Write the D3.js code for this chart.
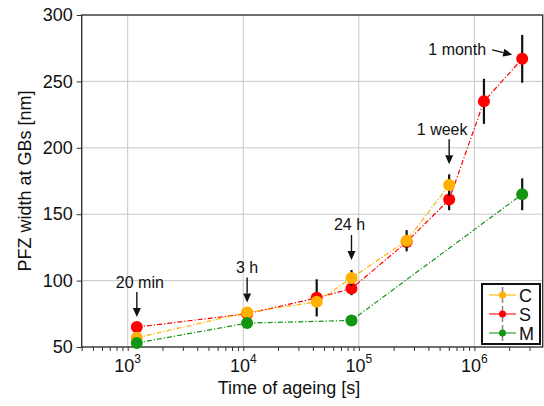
<!DOCTYPE html>
<html>
<head>
<meta charset="utf-8">
<script src="https://cdn.jsdelivr.net/npm/d3@7"></script>
<style>
  body { margin: 0; background: #fff; }
  svg { font-family: "Liberation Sans", Arial, sans-serif; }
</style>
</head>
<body>
<div id="chart"></div>
<script>
// Ageing times [s]: 20 min, 3 h, 12 h, 24 h, 3 d, 1 week, 2 weeks, 1 month
const timesC = [1200, 10800, 43200, 86400, 259200, 604800];
const valuesC = [57, 76, 84, 102, 130, 172];
const errorsC = [0, 0, 0, 6, 8, 8];

const timesS = [1200, 10800, 43200, 86400, 259200, 604800, 1209600, 2592000];
const valuesS = [65, 75, 87, 94, 129, 161, 235, 267];
const errorsS = [0, 0, 14, 5, 0, 8, 17, 18];

const timesM = [1200, 10800, 86400, 2592000];
const valuesM = [53, 68, 70, 165];
const errorsM = [0, 0, 3, 12];

const yTicks = [50, 100, 150, 200, 250, 300];
const xTicks = [1e3, 1e4, 1e5, 1e6];

const annLabels = ["20 min", "3 h", "24 h", "1 week", "1 month"];
const annTimes = [1200, 10800, 86400, 604800, 2592000];
const annDx = [3, 0, -2, -7, -65];

const series = [
  { name: "S", color: "#ff0000", times: timesS, values: valuesS, errors: errorsS },
  { name: "C", color: "#ffb000", times: timesC, values: valuesC, errors: errorsC },
  { name: "M", color: "#129612", times: timesM, values: valuesM, errors: errorsM }
];
const legendOrder = ["C", "S", "M"];

const width = 544, height = 406;
const margin = { top: 15, right: 1.3, bottom: 59, left: 81.7 };

const svg = d3.select("#chart").append("svg")
  .attr("width", width)
  .attr("height", height);

const x = d3.scaleLog()
  .domain([400, 3.9e6])
  .range([margin.left, width - margin.right]);

const y = d3.scaleLinear()
  .domain([50, 300])
  .range([height - margin.bottom, margin.top]);

// Grid
svg.append("g")
  .selectAll("line.gx")
  .data(xTicks)
  .join("line")
  .attr("x1", d => x(d)).attr("x2", d => x(d))
  .attr("y1", y(50)).attr("y2", y(300))
  .attr("stroke", "#c8c8c8").attr("stroke-width", 1);

svg.append("g")
  .selectAll("line.gy")
  .data(yTicks.slice(1, -1))
  .join("line")
  .attr("x1", margin.left).attr("x2", width - margin.right)
  .attr("y1", d => y(d)).attr("y2", d => y(d))
  .attr("stroke", "#c8c8c8").attr("stroke-width", 1);

// Axes
const minor = [];
for (let e = 2; e <= 6; e++) {
  for (let m = 1; m <= 9; m++) {
    const v = m * Math.pow(10, e);
    if (v >= 400 && v <= 3.9e6) minor.push(v);
  }
}
const xAxis = svg.append("g")
  .attr("transform", `translate(0,${y(50)})`)
  .call(d3.axisBottom(x).tickValues(minor).tickFormat("").tickSizeInner(4).tickSizeOuter(0));
xAxis.select(".domain").remove();
xAxis.selectAll(".tick line").attr("stroke", "#333");

const yAxis = svg.append("g")
  .attr("transform", `translate(${margin.left},0)`)
  .call(d3.axisLeft(y).tickValues(yTicks).tickSizeInner(5).tickSizeOuter(0).tickPadding(4));
yAxis.select(".domain").remove();
yAxis.selectAll(".tick line").attr("stroke", "#333");
yAxis.selectAll(".tick text")
  .attr("font-size", 18)
  .attr("fill", "#111")
  .attr("font-family", "Liberation Sans, Arial, sans-serif");

// x tick labels 10^n
const xl = svg.append("g");
xTicks.forEach(v => {
  const t = xl.append("text")
    .attr("x", x(v))
    .attr("y", 372)
    .attr("text-anchor", "middle")
    .attr("font-size", 18)
    .attr("fill", "#111");
  t.append("tspan").text("10");
  t.append("tspan").attr("font-size", 12).attr("dy", -9).text(Math.round(Math.log10(v)));
});

// Frame
svg.append("rect")
  .attr("x", margin.left).attr("y", margin.top)
  .attr("width", width - margin.right - margin.left)
  .attr("height", y(50) - margin.top)
  .attr("fill", "none")
  .attr("stroke", "#333")
  .attr("stroke-width", 1.4);

// Series
series.forEach(s => {
  const pts = s.times.map((t, i) => ({ t, v: s.values[i], e: s.errors[i] }));
  const g = svg.append("g");
  g.append("path")
    .datum(pts)
    .attr("d", d3.line().x(d => x(d.t)).y(d => y(d.v)))
    .attr("fill", "none")
    .attr("stroke", s.color)
    .attr("stroke-width", 1.2)
    .attr("stroke-dasharray", "5,2,1.2,2");
  g.selectAll("line.err")
    .data(pts.filter(d => d.e > 0))
    .join("line")
    .attr("x1", d => x(d.t)).attr("x2", d => x(d.t))
    .attr("y1", d => y(d.v - d.e)).attr("y2", d => y(d.v + d.e))
    .attr("stroke", "#111")
    .attr("stroke-width", 2.2);
  g.selectAll("circle")
    .data(pts)
    .join("circle")
    .attr("cx", d => x(d.t))
    .attr("cy", d => y(d.v))
    .attr("r", 6)
    .attr("fill", s.color);
});

// Annotations
function arrow(x1, y1, x2, y2) {
  const ang = Math.atan2(y2 - y1, x2 - x1);
  const L = 9, W = 4;
  const bx = x2 - L * Math.cos(ang), by = y2 - L * Math.sin(ang);
  svg.append("line")
    .attr("x1", x1).attr("y1", y1).attr("x2", bx).attr("y2", by)
    .attr("stroke", "#111").attr("stroke-width", 1.4);
  svg.append("path")
    .attr("d", `M${x2},${y2}L${bx - W * Math.sin(ang)},${by + W * Math.cos(ang)}L${bx + W * Math.sin(ang)},${by - W * Math.cos(ang)}Z`)
    .attr("fill", "#111");
}

const allPts = series.flatMap(s => s.times.map((t, i) => ({ t, v: s.values[i], top: s.values[i] + s.errors[i] })));
annLabels.forEach((label, i) => {
  const t = annTimes[i];
  const here = allPts.filter(p => p.t === t);
  const tx = x(t);
  if (label === "1 month") {
    // slanted arrow pointing at the marker from the left
    const ty = y(d3.max(here, p => p.v));
    arrow(tx - 30, ty - 9, tx - 10, ty - 4);
    svg.append("text")
      .attr("x", tx + annDx[i]).attr("y", ty - 4)
      .attr("text-anchor", "middle")
      .attr("font-size", 16).attr("fill", "#111")
      .text(label);
  } else {
    const tipY = y(d3.max(here, p => p.top)) - 10;
    arrow(tx, tipY - 25, tx, tipY);
    svg.append("text")
      .attr("x", tx + annDx[i])
      .attr("y", tipY - 29.5)
      .attr("text-anchor", "middle")
      .attr("font-size", 16).attr("fill", "#111")
      .text(label);
  }
});

// Legend
const lg = svg.append("g");
lg.append("rect")
  .attr("x", 482).attr("y", 284)
  .attr("width", 58).attr("height", 60)
  .attr("fill", "#fff")
  .attr("stroke", "#111")
  .attr("stroke-width", 2);
legendOrder.forEach((name, i) => {
  const s = series.find(d => d.name === name);
  const cy = 295 + i * 19;
  lg.append("line")
    .attr("x1", 489).attr("x2", 516).attr("y1", cy).attr("y2", cy)
    .attr("stroke", s.color).attr("stroke-opacity", 0.6).attr("stroke-width", 1.8);
  lg.append("line")
    .attr("x1", 502.5).attr("x2", 502.5).attr("y1", cy - 8).attr("y2", cy + 8)
    .attr("stroke", "#111").attr("stroke-opacity", 0.5).attr("stroke-width", 1.5);
  lg.append("circle")
    .attr("cx", 502.5).attr("cy", cy).attr("r", 3.5)
    .attr("fill", s.color);
  lg.append("text")
    .attr("x", 519).attr("y", cy + 6.5)
    .attr("font-size", 18).attr("fill", "#111")
    .text(name);
});

// Axis labels
svg.append("text")
  .attr("x", 289).attr("y", 394)
  .attr("text-anchor", "middle")
  .attr("font-size", 18).attr("fill", "#111")
  .text("Time of ageing [s]");

svg.append("text")
  .attr("transform", `translate(31,${(margin.top + y(50)) / 2}) rotate(-90)`)
  .attr("text-anchor", "middle")
  .attr("font-size", 18).attr("fill", "#111")
  .text("PFZ width at GBs [nm]");
</script>
</body>
</html>
